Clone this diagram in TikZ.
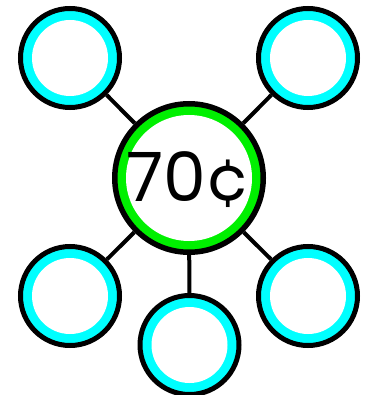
\documentclass[tikz,border=0pt]{standalone}
\usepackage{fontspec}
\setmainfont{Poppins}
\usetikzlibrary{positioning}
\definecolor{ringcyan}{RGB}{0,255,255}
\definecolor{ringgreen}{RGB}{0,240,0}

\begin{document}
\begin{tikzpicture}[
    x=1pt, y=-1pt,
    outer/.style={circle, draw=black, line width=5pt, fill=ringcyan, minimum size=99pt, inner sep=0pt,
        path picture={\fill[white] (path picture bounding box.center) circle (38pt);}},
    hub/.style={circle, draw=black, line width=5.5pt, fill=ringgreen, minimum size=148.5pt, inner sep=0pt,
        path picture={\fill[white] (path picture bounding box.center) circle (63pt);}},
    spoke/.style={line width=4pt}
]
\useasboundingbox (0,0) rectangle (367,395);
\node[hub] (price) at (189,178) {};
\node[font=\fontsize{68}{68}\selectfont] (amt) at (189,180) {70¢};
\node[outer] (tl) at (70,58) {};
\node[outer] (tr) at (308,58) {};
\node[outer] (bl) at (70,296) {};
\node[outer] (bm) at (189.5,345) {};
\node[outer] (br) at (308,296) {};

\draw[spoke] (price) -- (tl);
\draw[spoke] (price) -- (tr);
\draw[spoke] (price) -- (bl);
\draw[spoke] (price) -- (bm);
\draw[spoke] (price) -- (br);
\end{tikzpicture}
\end{document}
